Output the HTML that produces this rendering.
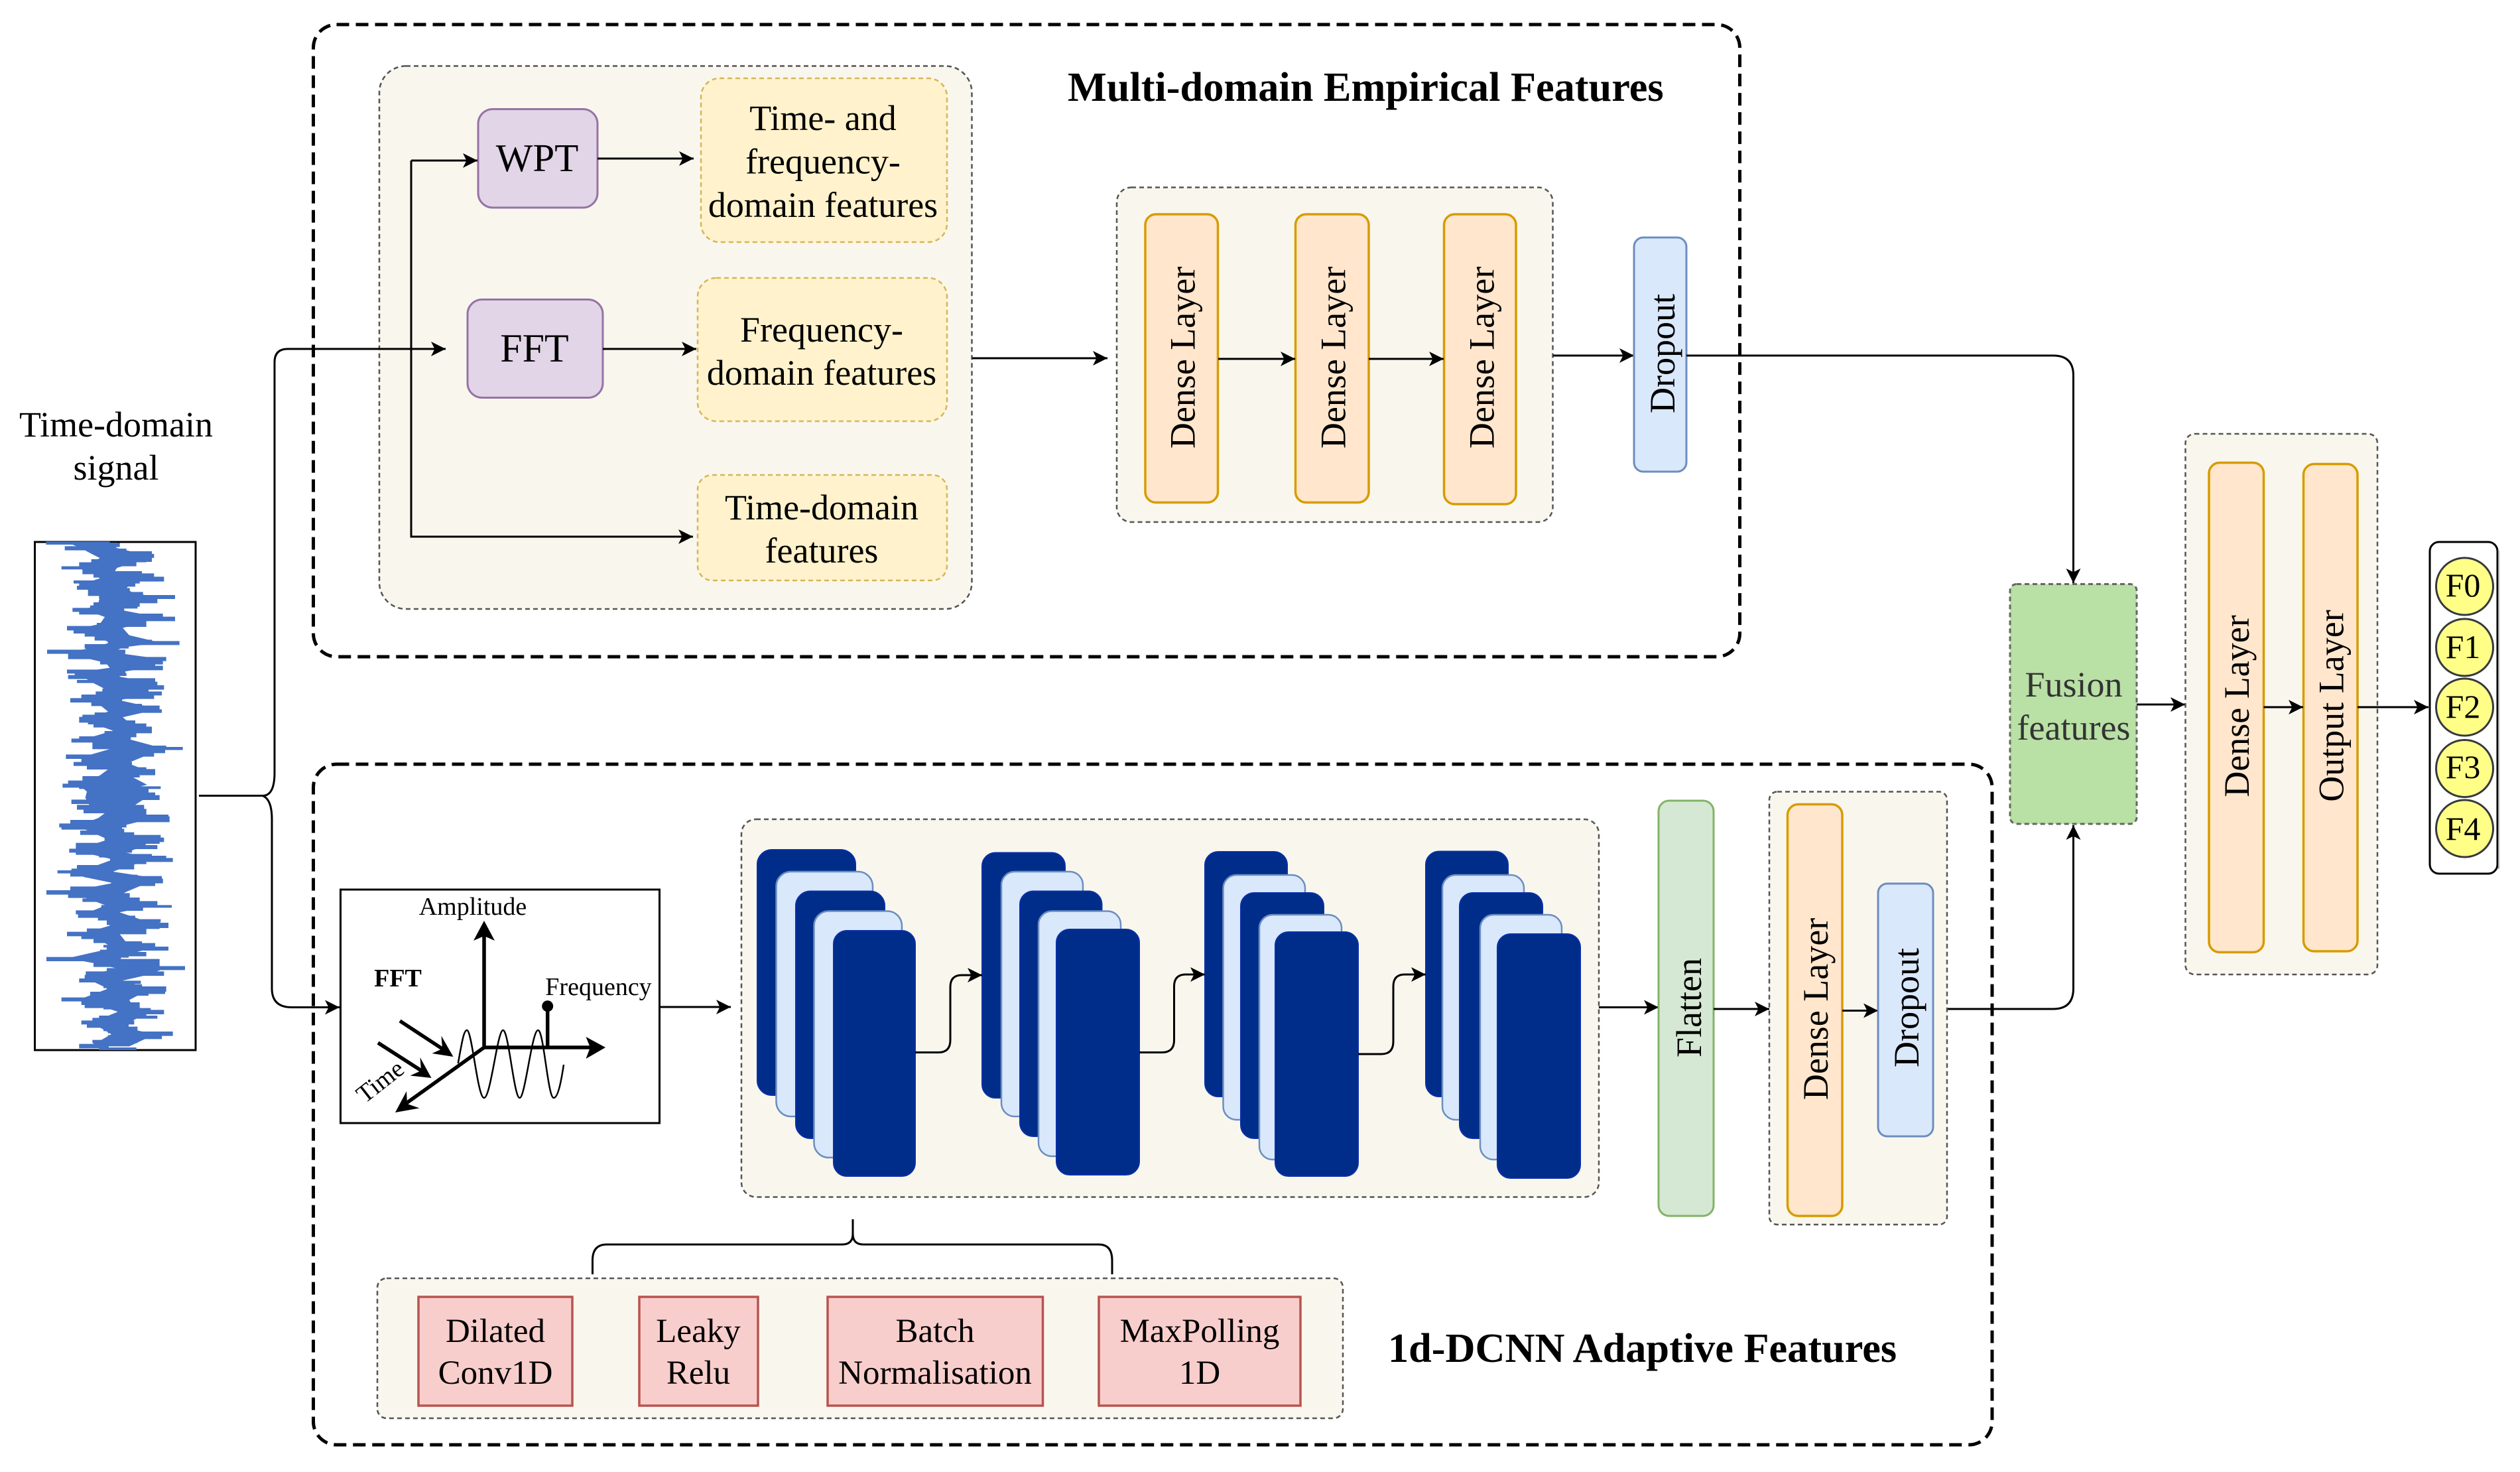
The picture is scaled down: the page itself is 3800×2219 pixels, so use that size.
<!DOCTYPE html>
<html>
<head>
<meta charset="utf-8">
<style>
html,body{margin:0;padding:0;background:#fff}
svg{display:block}
text{font-family:"Liberation Serif",serif;font-size:54px;fill:#000;text-anchor:middle}
.t{font-weight:bold;font-size:62.3px;text-anchor:start}
.out{fill:none;stroke:#000;stroke-width:5;stroke-dasharray:19 10}
.p{fill:#f9f7ed;stroke:#555;stroke-width:2.5;stroke-dasharray:7 5}
.y{fill:#fff2cc;stroke:#d6b656;stroke-width:2.5;stroke-dasharray:7 5}
.w{fill:#e1d5e7;stroke:#9673a6;stroke-width:3}
.d{fill:#ffe6cc;stroke:#d79b00;stroke-width:3.5}
.o{fill:#dae8fc;stroke:#6c8ebf;stroke-width:3}
.g{fill:#d5e8d4;stroke:#82b366;stroke-width:3}
.f{fill:#b9e0a5;stroke:#666;stroke-width:3;stroke-dasharray:7 5}
.r{fill:#f8cecc;stroke:#b85450;stroke-width:3.5}
.k{fill:#002d8a;stroke:#0a2fa8;stroke-width:2}
.l{fill:#dae8fc;stroke:#6c8ebf;stroke-width:2.5}
.c{fill:#ffff88;stroke:#36393d;stroke-width:3}
.a{fill:none;stroke:#000;stroke-width:3;marker-end:url(#ah)}
.n{fill:none;stroke:#000;stroke-width:3}
.s{font-size:51px}
.m{font-size:38px}
.b{font-size:50px}
.w1{font-size:59px}
.w2{font-size:60px}
.sig{fill:#4472c4;stroke:#4472c4;stroke-width:4;stroke-linejoin:miter}
</style>
</head>
<body>
<svg xmlns="http://www.w3.org/2000/svg" width="3800" height="2219" viewBox="0 0 3800 2219">
<defs>
<marker id="ah" markerUnits="userSpaceOnUse" markerWidth="26" markerHeight="26" refX="22" refY="13" orient="auto">
<path d="M22 13 L0 2 L5.5 13 L0 24Z" fill="#000"/>
</marker>
</defs>
<rect width="3800" height="2219" fill="#fff"/>

<!-- outer groups -->
<rect class="out" x="472.5" y="37" width="2151" height="953" rx="35"/>
<rect class="out" x="472.5" y="1152" width="2531.5" height="1026" rx="35"/>

<!-- time domain signal -->
<text x="175" y="658">Time-domain</text>
<text x="175" y="723">signal</text>
<rect x="52.5" y="817" width="242.5" height="766" fill="#fff" stroke="#000" stroke-width="3"/>
<g transform="translate(175,0) scale(.7,1) translate(-175,0) translate(0,780) scale(.7015,.6124)">
<polygon fill="#4472c4" points="255,62 250,75 328,90 330,100 300,112 250,125 245,135 352,150 300,160 280,175 300,185 376,197 295,210 265,228 376,245 315,262 270,272 290,290 385,308 270,320 240,332 355,345 350,358 348,370 270,380 260,392 335,403 350,420 330,437 260,450 345,465 345,478 270,492 290,505 290,515 325,525 285,545 392,568 330,590 285,605 335,620 290,635 345,658 255,675 342,690 300,712 310,722 365,740 265,760 265,775 352,793 338,808 280,825 372,842 285,858 240,872 348,885 345,900 280,922 250,935 368,955 260,972 345,995 362,1005 260,1025 280,1045 360,1060 240,1085 368,1100 398,1110 352,1125 270,1140 356,1160 290,1188 300,1200 352,1217 290,1243 285,1258 370,1272 290,1302 170,1302 235,1272 205,1258 175,1243 255,1217 195,1200 132,1188 225,1160 172,1140 178,1125 250,1110 200,1100 100,1085 240,1060 210,1045 145,1025 230,1005 230,995 165,972 218,955 150,935 100,922 240,900 150,885 125,872 185,858 240,842 150,825 165,808 225,793 175,775 128,760 195,740 225,722 170,712 155,690 160,675 135,658 200,635 225,620 175,605 145,590 240,568 155,545 240,525 205,515 190,505 172,492 225,478 205,465 152,450 205,437 210,420 168,403 148,392 145,380 230,370 218,358 150,345 100,332 185,320 230,308 180,290 145,272 200,262 215,245 155,228 195,210 200,197 195,185 165,175 160,160 200,150 170,135 132,125 170,112 200,100 175,90 140,75 100,62"/>
</g>
<g>
<path class="sig" transform="translate(50,815) scale(.33333)" d="M60 6H345v10H60zM205 12H390v15H205zM145 27H325v15H145zM310 38H420v12H310zM310 50H535v14H310zM365 62H545v14H365zM365 76H535v18H365zM265 86H510v10H265zM210 100H465v14H210zM130 118H375v10H130zM225 128H350v14H225zM225 140H490v10H225zM275 150H545v15H275zM360 165H590v18H360zM185 182H480v10H185zM210 192H460v14H210zM200 206H340v14H200zM250 216H435v20H250zM250 234H495v14H250zM300 248H640v14H300zM390 263H560v18H390zM275 281H480v16H275zM260 295H470v10H260zM180 306H410v14H180zM210 318H410v14H210zM335 332H585v14H335zM350 346H640v16H350zM350 362H510v14H350zM290 374H510v14H290zM155 388H395v16H155zM185 404H335v14H185zM235 418H395v14H235zM280 430H435v8H280zM280 438H470v12H280zM340 450H535v8H340zM340 456H660v14H340zM235 470H430v16H235zM240 485H380v10H240zM65 495H415v15H65zM160 510H350v12H160zM160 520H420v14H160zM340 528H600v15H340zM305 544H430v14H305zM400 544H585v14H400zM400 558H550v10H400zM395 568H585v16H395zM155 585H415v14H155zM190 600H420v10H190zM160 610H385v14H160zM255 624H550v8H255zM200 632H550v10H200zM400 640H560v16H400zM400 656H590v16H400zM315 672H520v12H315zM285 684H580v14H285zM220 698H545v16H220zM170 714H400v16H170zM265 730H400v16H265zM355 740H490v8H355zM385 748H570v18H385zM350 765H580v10H350z"/>
<path class="sig" transform="translate(50,1070) scale(.33333)" d="M355 0H580v12H355zM280 14H415v16H280zM225 24H315v12H225zM210 34H315v22H210zM250 50H460v14H250zM275 64H510v14H275zM370 78H535v26H370zM325 98H465v24H325zM210 122H440v10H210zM175 132H355v14H175zM270 140H445v24H270zM270 164H600v12H270zM350 170H675v10H350zM350 180H595v14H350zM325 194H545v16H325zM150 204H420v16H150zM220 220H360v18H220zM185 238H445v14H185zM245 252H385v16H245zM360 262H510v10H360zM360 270H550v14H360zM380 280H550v14H380zM405 294H480v10H405zM225 302H380v20H225zM160 322H370v14H160zM135 336H375v14H135zM210 348H575v8H210zM300 356H520v20H300zM335 376H550v12H335zM345 388H570v18H345zM175 408H380v16H175zM265 420H430v12H265zM200 432H500v18H200zM230 450H510v16H230zM350 462H510v14H350zM325 476H610v8H325zM370 484H615v22H370zM170 500H380v16H170zM120 516H420v14H120zM130 530H400v10H130zM265 540H410v10H265zM215 548H410v16H215zM340 556H455v12H340zM340 568H575v14H340zM325 580H590v16H325zM355 594H570v10H355zM195 604H390v14H195zM195 614H560v14H195zM165 630H445v14H165zM195 644H415v10H195zM300 654H535v12H300zM355 662H600v12H355zM350 672H630v14H350zM355 686H510v10H355zM325 696H455v8H325zM200 704H455v16H200zM175 720H360v16H175zM112 728H360v10H112zM170 738H365v14H170zM235 748H470v8H235zM340 754H580v18H340zM355 770H585v10H355z"/>
<path class="sig" transform="translate(50,1325) scale(.33333)" d="M340 0H585v4H340zM365 4H585v14H365zM355 18H550v12H355zM170 36H435v8H170zM170 44H385v10H170zM62 53H300v16H62zM160 66H435v18H160zM225 90H390v12H225zM380 86H480v16H380zM380 102H560v20H380zM310 120H625v8H310zM365 128H495v14H365zM195 144H340v14H195zM205 156H340v18H205zM295 168H460v18H295zM335 184H575v10H335zM335 192H570v14H335zM420 200H610v20H420zM390 214H570v10H390zM245 226H510v22H245zM155 241H365v16H155zM220 256H365v14H220zM275 268H380v20H275zM410 284H490v8H410zM410 292H550v14H410zM320 300H410v8H320zM335 308H610v14H335zM305 322H415v8H305zM300 332H510v16H300zM285 346H430v8H285zM62 355H395v15H62zM345 364H570v14H345zM275 380H570v16H275zM430 396H685v14H430zM335 405H495v14H335zM240 420H590v16H240zM235 436H435v14H235zM210 452H390v14H210zM350 462H485v10H350zM320 478H490v14H320zM335 488H600v20H335zM340 506H595v12H340zM260 512H520v14H260zM260 526H445v12H260zM130 538H315v14H130zM220 550H315v18H220zM235 560H365v22H235zM320 560H480v28H320zM390 586H530v10H390zM430 594H590v16H430zM385 602H510v18H385zM300 620H560v10H300zM270 630H420v10H270zM220 642H455v14H220zM245 655H430v16H245zM320 670H470v16H320zM340 682H470v14H340zM365 692H630v16H365zM340 708H580v14H340zM340 720H460v12H340zM270 730H470v10H270zM275 738H340v10H275zM210 748H340v16H210zM300 764H465v8H300z"/>
</g>

<!-- panel 1 -->
<rect class="p" x="572" y="99.5" width="893.5" height="818.5" rx="40"/>
<rect class="w" x="721" y="164.5" width="180" height="148.5" rx="22"/>
<text class="w1" x="810" y="258">WPT</text>
<rect class="w" x="705" y="451.5" width="204" height="148" rx="22"/>
<text class="w2" x="806" y="545">FFT</text>
<rect class="y" x="1057" y="118" width="371" height="247" rx="28"/>
<text x="1241" y="196">Time- and</text>
<text x="1241" y="261.5">frequency-</text>
<text x="1241" y="327">domain features</text>
<rect class="y" x="1052" y="419" width="376" height="216" rx="28"/>
<text x="1239" y="515">Frequency-</text>
<text x="1239" y="580">domain features</text>
<rect class="y" x="1052" y="716" width="376" height="159" rx="22"/>
<text x="1239" y="783">Time-domain</text>
<text x="1239" y="848">features</text>

<!-- connectors input -->
<path class="n" d="M300 1199.5H396"/>
<path class="a" d="M396 1199.5Q414 1199.5 414 1165V546Q414 526 434 526H672"/>
<path class="a" d="M396 1199.5Q410 1205 410 1235V1490Q410 1518.5 440 1518.5H512"/>
<path class="a" d="M620 242H720"/>
<path class="a" d="M620 242V809H1045"/>
<path class="a" d="M901 239H1046"/>
<path class="a" d="M909 526H1050"/>
<path class="a" d="M1466 540H1670"/>

<!-- panel 2 -->
<rect class="p" x="1684" y="282.5" width="657.5" height="504.5" rx="22"/>
<rect class="d" x="1727" y="323" width="109.5" height="434.5" rx="16"/>
<rect class="d" x="1953.5" y="323" width="110.5" height="434.5" rx="16"/>
<rect class="d" x="2177.5" y="323" width="108.5" height="437" rx="16"/>
<text transform="translate(1801.5,539) rotate(-90)">Dense Layer</text>
<text transform="translate(2028.5,539) rotate(-90)">Dense Layer</text>
<text transform="translate(2252.5,539) rotate(-90)">Dense Layer</text>
<path class="a" d="M1837 541H1953"/>
<path class="a" d="M2064 541H2177"/>
<path class="a" d="M2342 536H2464"/>
<rect class="o" x="2464" y="358" width="79" height="353" rx="14"/>
<text transform="translate(2525,533) rotate(-90)">Dropout</text>
<path class="a" d="M2543 536H3096Q3126.5 536 3126.5 566V879"/>

<text class="t" x="1610" y="152">Multi-domain Empirical Features</text>

<!-- fusion -->
<path class="a" d="M2937 1521H3096Q3126.5 1521 3126.5 1490V1244"/>
<rect class="f" x="3031" y="880.5" width="191" height="361.5" rx="10"/>
<text x="3127" y="1050" style="fill:#333">Fusion</text>
<text x="3127" y="1115" style="fill:#333">features</text>
<path class="a" d="M3222 1062H3295"/>

<!-- panel right -->
<rect class="p" x="3295.5" y="654" width="289.5" height="815" rx="14"/>
<rect class="d" x="3331" y="697.5" width="82.5" height="738" rx="16"/>
<rect class="d" x="3473.5" y="699.5" width="81.5" height="734.5" rx="16"/>
<text transform="translate(3391,1064.5) rotate(-90)">Dense Layer</text>
<text transform="translate(3533.5,1064) rotate(-90)">Output Layer</text>
<path class="a" d="M3413.5 1066H3473"/>
<path class="a" d="M3555 1066H3662"/>

<!-- F outputs -->
<rect x="3664" y="817" width="102" height="500" rx="14" fill="#fff" stroke="#000" stroke-width="3"/>
<path d="M3768 830V1310" stroke="#aaa" stroke-width="2"/>
<circle class="c" cx="3716.5" cy="884" r="43"/>
<circle class="c" cx="3716.5" cy="976" r="43"/>
<circle class="c" cx="3716.5" cy="1066" r="43"/>
<circle class="c" cx="3716.5" cy="1158.5" r="43"/>
<circle class="c" cx="3716.5" cy="1249" r="43"/>
<text class="b" x="3714" y="899">F0</text>
<text class="b" x="3714" y="992">F1</text>
<text class="b" x="3714" y="1082">F2</text>
<text class="b" x="3714" y="1173">F3</text>
<text class="b" x="3714" y="1266">F4</text>

<!-- FFT graphic -->
<rect x="513.5" y="1341" width="481" height="352" fill="#fff" stroke="#000" stroke-width="3"/>
<text class="m" x="713" y="1379">Amplitude</text>
<text class="m" x="600" y="1487" style="font-weight:bold">FFT</text>
<text class="m" x="902.5" y="1500">Frequency</text>
<text class="m" transform="translate(581,1640) rotate(-38)">Time</text>
<path fill="none" stroke="#000" stroke-width="2.5" d="M690.7 1603C696 1575 699 1553 704 1553C712 1553 720 1655 730 1655C740 1655 750 1553 758.6 1553C767 1553 775 1655 783.6 1655C792 1655 802 1553 811.4 1553C820 1553 826 1655 835 1655C842 1655 847 1625 850 1605"/>
<g stroke="#000" stroke-width="5.5" fill="none">
<path d="M730 1579V1405"/>
<path d="M730 1579H895"/>
<path d="M730 1579L610 1665"/>
<path d="M603 1539L670 1583"/>
<path d="M570 1572L637 1615"/>
<path d="M825.7 1516V1579"/>
</g>
<path d="M730 1388L746 1418L730 1411L714 1418Z"/>
<path d="M913 1579L883.5 1596L890 1579L883.5 1563Z"/>
<path d="M596 1677L613 1645L614 1664L632.5 1670.5Z"/>
<path d="M683.5 1593L665.5 1561.5L667 1581L651.5 1588Z"/>
<path d="M650.5 1625L633.5 1594L635 1614L618.5 1621.5Z"/>
<circle cx="825.7" cy="1516.7" r="8.5"/>
<path class="a" d="M994 1518H1102"/>

<!-- CNN panel -->
<rect class="p" x="1118" y="1235" width="1293" height="569.5" rx="22"/>
<rect class="k" x="1142" y="1281" width="148" height="370" rx="22"/>
<rect class="l" x="1170.5" y="1314" width="145.5" height="369" rx="22"/>
<rect class="k" x="1200" y="1343.5" width="134" height="372.5" rx="22"/>
<rect class="l" x="1227.5" y="1373.5" width="132.5" height="371.5" rx="22"/>
<rect class="k" x="1257" y="1403" width="123" height="370" rx="20"/>

<rect class="k" x="1481" y="1285.5" width="125" height="369.5" rx="20"/>
<rect class="l" x="1510" y="1314" width="123" height="369" rx="20"/>
<rect class="k" x="1538" y="1343.5" width="123.5" height="369.5" rx="20"/>
<rect class="l" x="1566" y="1373.5" width="124" height="369.5" rx="20"/>
<rect class="k" x="1593" y="1401" width="125" height="370" rx="20"/>

<rect class="k" x="1817" y="1284" width="124" height="369" rx="20"/>
<rect class="l" x="1844.5" y="1319" width="123.5" height="369" rx="20"/>
<rect class="k" x="1871" y="1346" width="125" height="370" rx="20"/>
<rect class="l" x="1899" y="1379" width="124" height="369" rx="20"/>
<rect class="k" x="1923" y="1405" width="125" height="368" rx="20"/>

<rect class="k" x="2150" y="1283.5" width="124" height="369.5" rx="20"/>
<rect class="l" x="2175" y="1319" width="123" height="369" rx="20"/>
<rect class="k" x="2201" y="1346" width="125" height="370" rx="20"/>
<rect class="l" x="2232" y="1379" width="123" height="369" rx="20"/>
<rect class="k" x="2258" y="1408" width="125" height="368" rx="20"/>

<path class="a" d="M1380 1586.5H1415Q1433 1586.5 1433 1568V1488Q1433 1470 1450 1470H1481"/>
<path class="a" d="M1718 1586.5H1752Q1770.5 1586.5 1770.5 1568V1487Q1770.5 1469 1788 1469H1817"/>
<path class="a" d="M2048 1589H2083Q2101 1589 2101 1570V1487Q2101 1469 2118 1469H2150"/>
<path class="a" d="M2411 1518.5H2501"/>

<!-- flatten / dense -->
<rect class="g" x="2501" y="1207" width="83" height="626" rx="16"/>
<text transform="translate(2565,1519) rotate(-90)">Flatten</text>
<path class="a" d="M2584 1521H2668"/>
<rect class="p" x="2668" y="1193.5" width="268" height="652.5" rx="12"/>
<rect class="d" x="2695.5" y="1212.5" width="82.5" height="620.5" rx="16"/>
<text transform="translate(2756,1521) rotate(-90)">Dense Layer</text>
<path class="a" d="M2778 1523.5H2832"/>
<rect class="o" x="2832" y="1332" width="83" height="381" rx="14"/>
<text transform="translate(2893,1519) rotate(-90)">Dropout</text>

<!-- bracket -->
<path class="n" d="M1286 1838V1860Q1286 1876 1270 1876H915Q893.5 1876 893.5 1900V1921"/>
<path class="n" d="M1286 1838V1860Q1286 1876 1302 1876H1657Q1677 1876 1677 1900V1921"/>

<!-- bottom panel -->
<rect class="p" x="569" y="1927" width="1456" height="211" rx="14"/>
<rect class="r" x="631" y="1955" width="232" height="164"/>
<rect class="r" x="964" y="1955" width="179" height="164"/>
<rect class="r" x="1248" y="1955" width="324.5" height="164"/>
<rect class="r" x="1657" y="1955" width="304" height="164"/>
<text class="s" x="747" y="2023">Dilated</text>
<text class="s" x="747" y="2086">Conv1D</text>
<text class="s" x="1053" y="2023">Leaky</text>
<text class="s" x="1053" y="2086">Relu</text>
<text class="s" x="1410" y="2023">Batch</text>
<text class="s" x="1410" y="2086">Normalisation</text>
<text class="s" x="1809" y="2023">MaxPolling</text>
<text class="s" x="1809" y="2086">1D</text>

<text class="t" x="2093" y="2053">1d-DCNN Adaptive Features</text>
</svg>
</body>
</html>
